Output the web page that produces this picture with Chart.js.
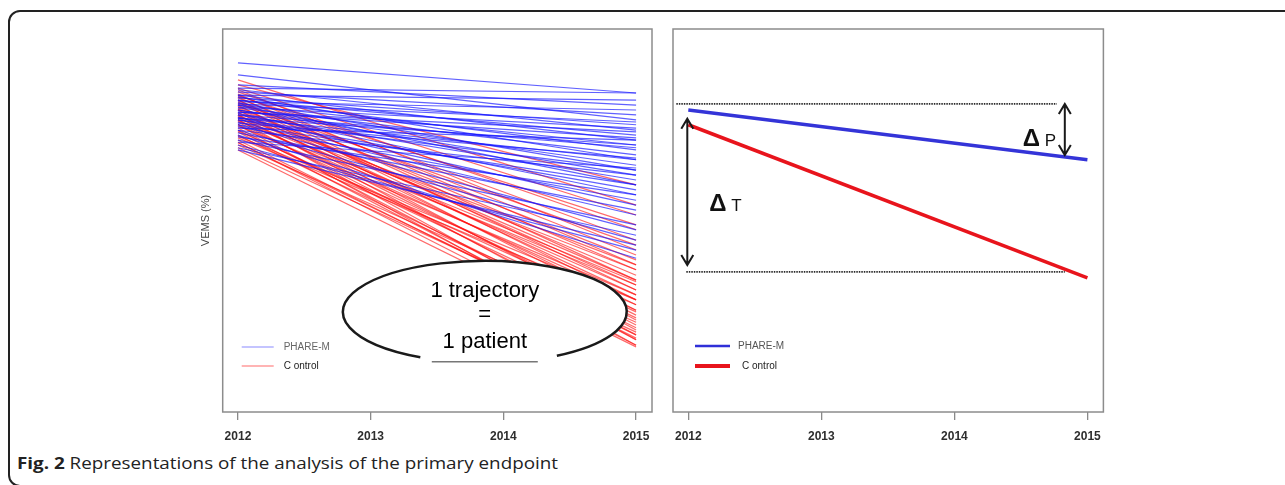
<!DOCTYPE html>
<html>
<head>
<meta charset="utf-8">
<script src="https://cdn.jsdelivr.net/npm/chart.js@4.4.0/dist/chart.umd.min.js"></script>
<style>
body{margin:0;background:#fff;width:1285px;height:485px;overflow:hidden;position:relative;font-family:Arial,"Liberation Sans",sans-serif}
#frame{position:absolute;left:8px;top:10px;width:1320px;height:477px;border:2px solid #222;border-radius:12px;box-sizing:border-box}
#left{position:absolute;left:180px;top:0}
#right{position:absolute;left:660px;top:0}
#caption{position:absolute;left:17px;top:453px;font-family:"Open Sans";font-size:16px;line-height:20px;color:#222;white-space:nowrap;transform-origin:0 0}
</style>
</head>
<body>
<div id="frame"></div>
<canvas id="left" width="480" height="450"></canvas>
<canvas id="right" width="450" height="450"></canvas>
<div id="caption"><b>Fig. 2</b> Representations of the analysis of the primary endpoint</div>
<script>
// axis setup
var years = [2012, 2013, 2014, 2015];
var trajYears = [2012, 2015];
var xMin = 2011.885, xMax = 2015.12;
var yMin = 30, yMax = 100;
var yLabel = 'VEMS (%)';
var seriesNames = ['PHARE-M', 'C ontrol'];
var ellipseText = ['1 trajectory', '=', '1 patient'];

// individual trajectories, VEMS (%) in 2012 and in 2015
var phareStart = [93.8, 91.6, 89.8, 89.2, 88.9, 88.5, 87.9, 87.9, 87.6, 87.4, 87.0, 87.0, 86.7, 86.5, 86.1, 86.1,
    85.7, 85.6, 85.2, 85.2, 84.8, 84.6, 84.3, 84.3, 83.9, 83.7, 83.4, 83.4, 83.0, 82.8, 82.5, 82.5,
    82.1, 81.9, 81.5, 81.5, 81.0, 80.6, 80.3, 79.7, 79.3, 78.8, 78.3, 77.9, 86.3, 84.8, 83.7];
var phareEnd = [88.3, 83.4, 86.1, 88.3, 81.5, 84.3, 79.7, 87.0, 76.1, 82.5, 80.6, 77.9, 85.2, 74.2, 78.8, 71.5,
    81.9, 77.0, 73.3, 75.1, 80.1, 69.7, 78.3, 72.4, 67.8, 76.1, 70.6, 74.2, 66.0, 76.4, 63.3, 71.5,
    68.7, 79.7, 61.4, 73.3, 66.9, 58.1, 69.7, 64.2, 74.6, 59.6, 62.3, 60.5, 83.0, 81.2, 78.8];
var controlStart = [90.7, 89.8, 89.2, 88.9, 88.5, 88.1, 87.9, 87.6, 87.4, 87.0, 87.0, 86.7, 86.3, 86.1, 85.9, 85.6,
    85.2, 85.2, 84.8, 84.6, 84.3, 84.3, 83.9, 83.7, 83.4, 83.4, 83.0, 82.6, 82.5, 82.3, 81.9, 81.5,
    81.2, 80.6, 80.1, 79.7, 79.3, 78.8, 78.3, 77.9, 87.8, 86.5, 85.4, 84.1, 83.2, 81.4, 80.4, 79.2];
var controlEnd = [67.8, 71.5, 66.0, 59.6, 63.3, 56.9, 61.4, 54.1, 58.7, 52.3, 56.0, 50.5, 57.8, 48.6, 53.2, 55.0,
    46.8, 51.4, 49.6, 56.9, 45.0, 52.3, 47.7, 53.8, 43.2, 50.5, 45.9, 48.6, 42.2, 51.4, 44.1, 47.2,
    43.2, 45.4, 49.6, 43.5, 42.2, 46.4, 44.6, 41.9, 64.2, 60.5, 54.1, 56.0, 53.2, 48.3, 50.5, 44.1];

// mean trajectories (right panel)
var meanPhare = [85.2, 76.1];
var meanControl = [82.5, 54.5];
var refTopX = [2011.91, 2014.77], refTopY = 86.3;
var refBottomX = [2011.985, 2014.83], refBottomY = 55.6;
var deltaPX = 2014.83;

var tickFont = {family: 'Arial', size: 12, weight: 'bold'};

function xScale() {
    return {
        type: 'linear', min: xMin, max: xMax,
        afterBuildTicks: function (s) { s.ticks = years.map(function (v) { return {value: v}; }); },
        afterFit: function (s) { s.height = 38; },
        ticks: {font: tickFont, color: '#2e2e2e', padding: 9, autoSkip: false, maxRotation: 0,
            callback: function (v) { return String(v); }},
        grid: {drawOnChartArea: false, tickLength: 8, color: '#8a8a8a', lineWidth: 1.3},
        border: {display: false}
    };
}

function boxPlugin(id) {
    return {
        id: id,
        afterDatasetsDraw: function (chart) {
            var a = chart.chartArea, ctx = chart.ctx;
            ctx.save();
            ctx.strokeStyle = '#8c8c8c';
            ctx.lineWidth = 1.5;
            ctx.strokeRect(a.left, a.top, a.right - a.left, a.bottom - a.top);
            ctx.restore();
        }
    };
}

function legendItems(chart, items) {
    var a = chart.chartArea, ctx = chart.ctx;
    ctx.save();
    items.forEach(function (it) {
        ctx.strokeStyle = it.color;
        ctx.lineWidth = it.width;
        ctx.beginPath();
        ctx.moveTo(a.left + it.x0, it.y);
        ctx.lineTo(a.left + it.x1, it.y);
        ctx.stroke();
        ctx.fillStyle = it.textColor;
        ctx.font = '10px Arial';
        ctx.textBaseline = 'middle';
        ctx.fillText(it.text, a.left + it.tx, it.y);
    });
    ctx.restore();
}

// left panel: one line per patient
var leftSets = [];
for (var i = 0; i < phareStart.length; i++) {
    leftSets.push({data: [{x: trajYears[0], y: phareStart[i]}, {x: trajYears[1], y: phareEnd[i]}],
        borderColor: 'rgba(20,20,255,0.68)', borderWidth: 1.2});
}
for (var i = 0; i < controlStart.length; i++) {
    leftSets.push({data: [{x: trajYears[0], y: controlStart[i]}, {x: trajYears[1], y: controlEnd[i]}],
        borderColor: 'rgba(255,15,15,0.62)', borderWidth: 1.2});
}

var leftNotes = {
    id: 'leftNotes',
    afterDatasetsDraw: function (chart) {
        var ctx = chart.ctx, xs = chart.scales.x, ys = chart.scales.y;
        var cx = xs.getPixelForValue(2013.86), cy = ys.getPixelForValue(48.3);
        var rx = 142, ry = 51;
        ctx.save();
        ctx.fillStyle = '#fff';
        ctx.beginPath();
        ctx.ellipse(cx, cy, rx, ry, 0, 0, Math.PI * 2);
        ctx.fill();
        ctx.strokeStyle = '#1a1a1a';
        ctx.lineWidth = 2.5;
        ctx.beginPath();
        ctx.ellipse(cx, cy, rx, ry, 0, 117 * Math.PI / 180, (360 + 59.5) * Math.PI / 180);
        ctx.stroke();
        ctx.strokeStyle = '#777';
        ctx.lineWidth = 1.5;
        ctx.beginPath();
        ctx.moveTo(cx - 53, cy + 50);
        ctx.lineTo(cx + 53, cy + 50);
        ctx.stroke();
        ctx.fillStyle = '#000';
        ctx.font = '22px Arial';
        ctx.textAlign = 'center';
        ctx.textBaseline = 'middle';
        ctx.fillText(ellipseText[0], cx, cy - 21);
        ctx.fillText(ellipseText[1], cx, cy + 3);
        ctx.fillText(ellipseText[2], cx, cy + 30);
        ctx.restore();
        legendItems(chart, [
            {x0: 19, x1: 51, y: 347, color: '#8a8aff', width: 1.2, text: seriesNames[0], textColor: '#666', tx: 61},
            {x0: 19, x1: 51, y: 366, color: '#ff6a6a', width: 1.2, text: seriesNames[1], textColor: '#222', tx: 61}
        ]);
    }
};

new Chart(document.getElementById('left').getContext('2d'), {
    type: 'line',
    data: {datasets: leftSets},
    options: {
        responsive: false, animation: false, events: [],
        layout: {padding: {top: 29, right: 8, left: 0, bottom: 0}},
        elements: {point: {radius: 0}, line: {tension: 0}},
        plugins: {legend: {display: false}, tooltip: {enabled: false}},
        scales: {
            x: xScale(),
            y: {
                min: yMin, max: yMax,
                afterFit: function (s) { s.width = 42.7; },
                ticks: {display: false},
                grid: {display: false},
                border: {display: false},
                title: {display: true, text: yLabel, color: '#444', font: {family: 'Arial', size: 11},
                    padding: {top: 19, bottom: 0}}
            }
        }
    },
    plugins: [boxPlugin('leftBox'), leftNotes]
});

// right panel: mean slopes
function vArrow(ctx, x, y1, y2) {
    ctx.beginPath();
    ctx.moveTo(x, y1); ctx.lineTo(x, y2);
    ctx.moveTo(x - 6, y1 + 10); ctx.lineTo(x, y1); ctx.lineTo(x + 6, y1 + 10);
    ctx.moveTo(x - 6, y2 - 10); ctx.lineTo(x, y2); ctx.lineTo(x + 6, y2 - 10);
    ctx.stroke();
}

function delta(ctx, x, y, sub) {
    ctx.fillStyle = '#111';
    ctx.textBaseline = 'alphabetic';
    ctx.font = 'bold 24px Arial';
    ctx.fillText('\u0394', x, y);
    ctx.font = '17px Arial';
    ctx.fillText(sub, x + 22, y);
}

var rightNotes = {
    id: 'rightNotes',
    afterDatasetsDraw: function (chart) {
        var ctx = chart.ctx, xs = chart.scales.x, ys = chart.scales.y;
        ctx.save();
        ctx.strokeStyle = '#1a1a1a';
        ctx.lineWidth = 2;
        var xT = xs.getPixelForValue(trajYears[0]) - 1;
        var tTop = ys.getPixelForValue(meanControl[0]) - 6, tBot = ys.getPixelForValue(refBottomY) - 7;
        vArrow(ctx, xT, tTop, tBot);
        var xP = xs.getPixelForValue(deltaPX);
        var pTop = ys.getPixelForValue(refTopY), pBot = pTop + 51;
        vArrow(ctx, xP, pTop, pBot);
        delta(ctx, xT + 22, tBot - 54, 'T');
        delta(ctx, xP - 42, pTop + 42, 'P');
        ctx.restore();
        legendItems(chart, [
            {x0: 22, x1: 57, y: 346, color: '#2f2fd8', width: 2.5, text: seriesNames[0], textColor: '#555', tx: 65},
            {x0: 22, x1: 57, y: 366, color: '#e8141c', width: 4, text: seriesNames[1], textColor: '#222', tx: 69}
        ]);
    }
};

new Chart(document.getElementById('right').getContext('2d'), {
    type: 'line',
    data: {
        datasets: [
            {data: refTopX.map(function (x) { return {x: x, y: refTopY}; }),
                borderColor: '#2a2a2a', borderWidth: 1.8, borderDash: [1.5, 1]},
            {data: refBottomX.map(function (x) { return {x: x, y: refBottomY}; }),
                borderColor: '#2a2a2a', borderWidth: 1.8, borderDash: [1.5, 1]},
            {data: [{x: trajYears[0], y: meanControl[0]}, {x: trajYears[1], y: meanControl[1]}],
                borderColor: '#e8141c', borderWidth: 3.5},
            {data: [{x: trajYears[0], y: meanPhare[0]}, {x: trajYears[1], y: meanPhare[1]}],
                borderColor: '#3434d8', borderWidth: 3.5}
        ]
    },
    options: {
        responsive: false, animation: false, events: [],
        layout: {padding: {top: 29, right: 6, left: 13, bottom: 0}},
        elements: {point: {radius: 0}, line: {tension: 0}},
        plugins: {legend: {display: false}, tooltip: {enabled: false}},
        scales: {
            x: xScale(),
            y: {min: yMin, max: yMax, display: false}
        }
    },
    plugins: [boxPlugin('rightBox'), rightNotes]
});

var cap = document.getElementById('caption');
var w = cap.getBoundingClientRect().width;
cap.style.transform = 'scaleX(' + (541 / w) + ')';
</script>
</body>
</html>
